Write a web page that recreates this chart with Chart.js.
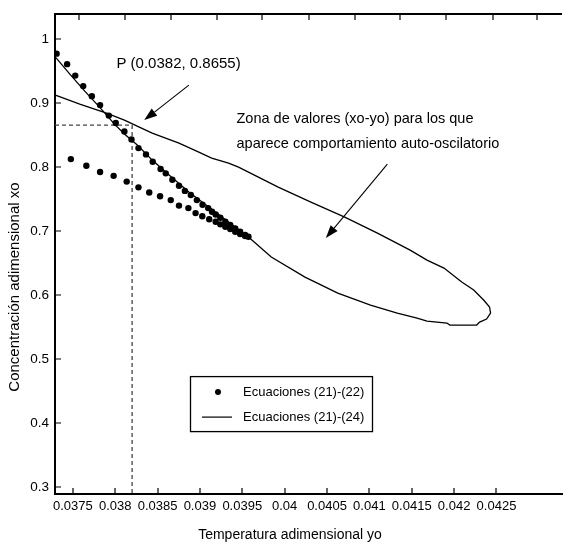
<!DOCTYPE html>
<html>
<head>
<meta charset="utf-8">
<script src="https://cdn.jsdelivr.net/npm/chart.js@4.4.0/dist/chart.umd.min.js"></script>
<style>
  html, body { margin: 0; padding: 0; background: #fff; }
  canvas { display: block; }
</style>
</head>
<body>
<canvas id="chart" width="566" height="544"></canvas>
<script>
// axis limits and ticks
const xMin = 0.03729, xMax = 0.043273;
const yMin = 0.28906, yMax = 1.0391;
const xTicks = [0.0375, 0.038, 0.0385, 0.039, 0.0395, 0.04, 0.0405, 0.041, 0.0415, 0.042, 0.0425];
const yTicks = [0.3, 0.4, 0.5, 0.6, 0.7, 0.8, 0.9, 1];
const topTicks = [0.03757, 0.038121, 0.038659, 0.039198, 0.039737, 0.040287, 0.040826, 0.041364, 0.041903, 0.042453, 0.04298];

// Ecuaciones (21)-(22): upper branch of points
const upperX = [0.037309, 0.037433, 0.037529, 0.037623, 0.037725, 0.037822, 0.037925, 0.038007, 0.038109, 0.038193,
  0.038275, 0.038364, 0.038443, 0.038536, 0.038597, 0.038675, 0.038753, 0.038823, 0.038893, 0.038964,
  0.039031, 0.039098, 0.039143, 0.039186, 0.039241, 0.0393, 0.039358, 0.039417, 0.039475, 0.039534, 0.039573];
const upperY = [0.9773, 0.9609, 0.943, 0.9266, 0.9109, 0.8969, 0.8805, 0.8688, 0.8555, 0.8433,
  0.8297, 0.8198, 0.8083, 0.7969, 0.7902, 0.7802, 0.7708, 0.7628, 0.7563, 0.7484,
  0.7411, 0.7359, 0.7302, 0.7258, 0.7208, 0.7145, 0.7094, 0.7042, 0.6989, 0.6938, 0.6911];
// lower branch of points
const lowerX = [0.037477, 0.03766, 0.037822, 0.037982, 0.038136, 0.038275, 0.038402, 0.03853, 0.038656, 0.038753,
  0.038864, 0.038949, 0.039028, 0.03911, 0.039186, 0.039241, 0.0393, 0.039358, 0.039417, 0.039475, 0.039534];
const lowerY = [0.8125, 0.802, 0.7922, 0.7863, 0.7773, 0.7683, 0.7602, 0.7544, 0.7484, 0.7398,
  0.7359, 0.7281, 0.7231, 0.7184, 0.7145, 0.7105, 0.7067, 0.7031, 0.6989, 0.6953, 0.6922];

// Ecuaciones (21)-(24): boundary curve (down the lower side, round the tip, back along the top)
const curveX = [0.037295, 0.037465, 0.037641, 0.037816, 0.037992, 0.038109, 0.038261, 0.038437, 0.038636, 0.03887,
  0.039104, 0.039338, 0.039573, 0.039842, 0.04024, 0.040627, 0.041013, 0.041329, 0.041563, 0.04168,
  0.041915, 0.04195, 0.042266, 0.042301, 0.042383, 0.04243, 0.042418, 0.042348, 0.042231, 0.04209,
  0.04188, 0.04168, 0.041481, 0.041095, 0.040709, 0.04031, 0.039924, 0.03969, 0.039456, 0.039338,
  0.039139, 0.038987, 0.038753, 0.038437, 0.038285, 0.038109, 0.037898, 0.037582, 0.037295];
const curveY = [0.9719, 0.9453, 0.9188, 0.8938, 0.8672, 0.8516, 0.8344, 0.8109, 0.7875, 0.7609,
  0.7375, 0.7141, 0.6906, 0.6594, 0.6281, 0.6031, 0.5844, 0.5719, 0.5641, 0.5594,
  0.5563, 0.5531, 0.5531, 0.5578, 0.5625, 0.5719, 0.5813, 0.5922, 0.6078, 0.6203,
  0.6422, 0.6547, 0.6703, 0.6969, 0.7219, 0.7453, 0.7688, 0.7844, 0.8, 0.8063,
  0.8141, 0.8234, 0.8375, 0.8531, 0.8625, 0.8734, 0.8844, 0.8984, 0.9125];

// point P and the annotation arrows [x0, y0, x1, y1]
const pX = 0.0382, pY = 0.8655;
const arrowP = [0.03887, 0.9281, 0.038343, 0.8734];
const arrowZona = [0.041212, 0.8047, 0.040486, 0.6891];

const FONT = '"Liberation Sans", Arial, Helvetica, sans-serif';
Chart.defaults.font.family = FONT;
Chart.defaults.color = '#000';

const zip = (xs, ys) => xs.map((x, i) => ({ x, y: ys[i] }));

function arrow(ctx, x0, y0, x1, y1) {
  const ang = Math.atan2(y1 - y0, x1 - x0);
  const len = 13, half = 4.5;
  const bx = x1 - len * Math.cos(ang), by = y1 - len * Math.sin(ang);
  ctx.beginPath();
  ctx.moveTo(x0, y0);
  ctx.lineTo(bx, by);
  ctx.stroke();
  ctx.beginPath();
  ctx.moveTo(x1, y1);
  ctx.lineTo(bx + half * Math.sin(ang), by - half * Math.cos(ang));
  ctx.lineTo(bx - half * Math.sin(ang), by + half * Math.cos(ang));
  ctx.closePath();
  ctx.fill();
}

// frame ticks, notes, arrows, legend and axis titles
const decorations = {
  id: 'decorations',
  afterDraw(chart) {
    const { ctx, chartArea: a, scales: { x, y } } = chart;
    ctx.save();
    ctx.strokeStyle = '#000';
    ctx.fillStyle = '#000';

    ctx.lineWidth = 2;
    ctx.beginPath();
    ctx.moveTo(a.left, a.top);
    ctx.lineTo(a.right, a.top);
    ctx.stroke();

    ctx.lineWidth = 1.2;
    ctx.beginPath();
    xTicks.forEach(v => {
      const px = Math.round(x.getPixelForValue(v));
      ctx.moveTo(px, a.bottom);
      ctx.lineTo(px, a.bottom - 6);
    });
    topTicks.forEach(v => {
      const px = Math.round(x.getPixelForValue(v));
      ctx.moveTo(px, a.top);
      ctx.lineTo(px, a.top + 6);
    });
    yTicks.forEach(v => {
      const py = Math.round(y.getPixelForValue(v));
      ctx.moveTo(a.left, py);
      ctx.lineTo(a.left + 6, py);
    });
    ctx.stroke();

    // arrows
    ctx.lineWidth = 1.1;
    [arrowP, arrowZona].forEach(r => arrow(ctx,
      x.getPixelForValue(r[0]), y.getPixelForValue(r[1]),
      x.getPixelForValue(r[2]), y.getPixelForValue(r[3])));

    // notes
    ctx.font = '15px ' + FONT;
    ctx.textAlign = 'left';
    ctx.textBaseline = 'alphabetic';
    ctx.fillText('P (' + pX + ', ' + pY + ')', x.getPixelForValue(0.038015), y.getPixelForValue(0.9542));
    ctx.font = '14.5px ' + FONT;
    ctx.fillText('Zona de valores (xo-yo) para los que', x.getPixelForValue(0.039432), y.getPixelForValue(0.8683));
    ctx.fillText('aparece comportamiento auto-oscilatorio', x.getPixelForValue(0.039432), y.getPixelForValue(0.8292));

    // legend box
    const lx = a.left + 135, ly = a.top + 362, lw = 182, lh = 55;
    ctx.lineWidth = 1.3;
    ctx.strokeRect(lx + 0.5, ly + 0.5, lw, lh);
    ctx.beginPath();
    ctx.arc(lx + 28, ly + 16, 3, 0, Math.PI * 2);
    ctx.fill();
    ctx.lineWidth = 1.2;
    ctx.beginPath();
    ctx.moveTo(lx + 12, ly + 41);
    ctx.lineTo(lx + 42, ly + 41);
    ctx.stroke();
    ctx.font = '13px ' + FONT;
    ctx.textBaseline = 'middle';
    ctx.fillText('Ecuaciones (21)-(22)', lx + 53, ly + 16);
    ctx.fillText('Ecuaciones (21)-(24)', lx + 53, ly + 41);

    // axis titles
    ctx.font = '14px ' + FONT;
    ctx.textAlign = 'center';
    ctx.fillText('Temperatura adimensional yo', 290, 535);
    ctx.font = '15px ' + FONT;
    ctx.translate(15, 287);
    ctx.rotate(-Math.PI / 2);
    ctx.fillText('Concentración adimensional xo', 0, 0);
    ctx.restore();
  }
};

new Chart(document.getElementById('chart'), {
  type: 'scatter',
  data: {
    datasets: [
      {
        label: 'Ecuaciones (21)-(22)',
        data: zip(upperX, upperY),
        pointRadius: 3.2,
        pointBackgroundColor: '#000',
        pointBorderWidth: 0,
        showLine: false
      },
      {
        label: 'Ecuaciones (21)-(22)',
        data: zip(lowerX, lowerY),
        pointRadius: 3.2,
        pointBackgroundColor: '#000',
        pointBorderWidth: 0,
        showLine: false
      },
      {
        label: 'Ecuaciones (21)-(24)',
        data: zip(curveX, curveY),
        showLine: true,
        pointRadius: 0,
        borderColor: '#000',
        borderWidth: 1.3,
        tension: 0
      },
      {
        label: 'P',
        data: [{ x: xMin, y: pY }, { x: pX, y: pY }, { x: pX, y: yMin }],
        showLine: true,
        pointRadius: 0,
        borderColor: '#444',
        borderWidth: 1.3,
        borderDash: [4, 3]
      }
    ]
  },
  options: {
    responsive: false,
    animation: false,
    devicePixelRatio: 1,
    layout: { padding: { top: 14, left: 0, right: 0, bottom: 0 } },
    plugins: { legend: { display: false }, tooltip: { enabled: false } },
    scales: {
      x: {
        type: 'linear',
        min: xMin,
        max: xMax,
        afterBuildTicks: s => { s.ticks = xTicks.map(v => ({ value: v })); },
        afterFit: s => { s.height = 50; },
        grid: { display: false, drawTicks: false },
        border: { display: true, color: '#000', width: 2 },
        ticks: {
          autoSkip: false,
          maxRotation: 0,
          padding: 5,
          color: '#000',
          font: { size: 13 },
          callback: v => String(+v.toFixed(4))
        }
      },
      y: {
        type: 'linear',
        min: yMin,
        max: yMax,
        afterBuildTicks: s => { s.ticks = yTicks.map(v => ({ value: v })); },
        afterFit: s => { s.width = 55; },
        grid: { display: false, drawTicks: false },
        border: { display: true, color: '#000', width: 2 },
        ticks: {
          padding: 6,
          color: '#000',
          font: { size: 13.5 },
          callback: v => String(+v.toFixed(1))
        }
      }
    }
  },
  plugins: [decorations]
});
</script>
</body>
</html>
